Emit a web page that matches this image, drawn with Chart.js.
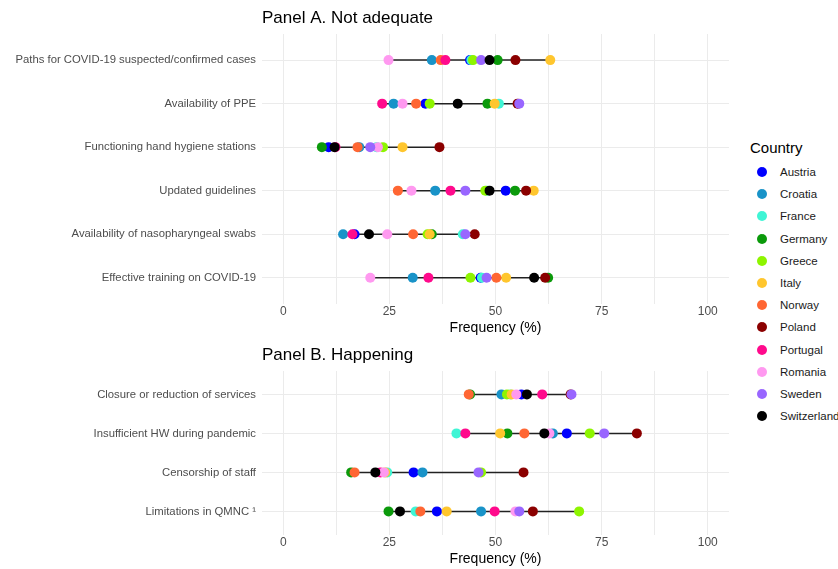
<!DOCTYPE html>
<html>
<head>
<meta charset="utf-8">
<script src="https://cdn.jsdelivr.net/npm/chart.js@4.4.1/dist/chart.umd.min.js"></script>
<style>
  body { margin: 0; background: #fff; font-family: "Liberation Sans", Arial, sans-serif; overflow: hidden; }
  #wrap { position: relative; width: 838px; height: 569px; overflow: hidden; }
  #boxA { position: absolute; left: 0; top: 0; width: 735px; height: 340px; }
  #boxB { position: absolute; left: 0; top: 337px; width: 735px; height: 232px; }
  #legend { position: absolute; left: 750px; top: 138px; }
  #legend .ttl { font-size: 15px; line-height: 20px; height: 23px; color: #000; }
  #legend .item { height: 22.2px; line-height: 22.2px; font-size: 11.5px; color: #1a1a1a; position: relative; padding-left: 30px; white-space: nowrap; }
  #legend .dot { position: absolute; left: 7px; top: 6px; width: 10px; height: 10px; border-radius: 50%; }
</style>
</head>
<body>
<div id="wrap">
  <div id="boxA"><canvas id="panelA"></canvas></div>
  <div id="boxB"><canvas id="panelB"></canvas></div>
  <div id="legend"></div>
</div>
<script>
// countries and colours (legend order)
const countries = ['Austria', 'Croatia', 'France', 'Germany', 'Greece', 'Italy',
  'Norway', 'Poland', 'Portugal', 'Romania', 'Sweden', 'Switzerland'];
const countryColors = ['#0000ff', '#1993c8', '#3ff5d5', '#0b9a0b', '#8ef500', '#ffc62e',
  '#ff6633', '#8b0000', '#ff0a8c', '#ff99f0', '#9966ff', '#000000'];

// Panel A. Not adequate - one value per country, in the order above
const categoriesA = ['Paths for COVID-19 suspected/confirmed cases', 'Availability of PPE',
  'Functioning hand hygiene stations', 'Updated guidelines',
  'Availability of nasopharyngeal swabs', 'Effective training on COVID-19'];
const pathsCases   = [44.0, 35.0, 44.3, 50.5, 44.7, 62.9, 37.1, 54.7, 38.2, 24.8, 46.6, 48.6];
const ppe          = [33.5, 26.0, 50.8, 48.1, 34.5, 49.8, 31.3, 55.2, 23.3, 28.1, 55.6, 41.1];
const handHygiene  = [10.7, 17.9, 22.0,  9.1, 23.5, 28.1, 17.5, 36.8, 12.3, 22.3, 20.5, 12.1];
const guidelines   = [52.4, 35.8, 48.0, 54.6, 47.6, 59.0, 27.0, 57.2, 39.4, 30.2, 42.9, 48.6];
const swabs        = [16.8, 14.1, 42.3, 35.0, 34.0, 34.5, 30.6, 45.1, 16.3, 24.5, 42.9, 20.2];
const training     = [46.5, 30.5, 46.8, 62.4, 44.1, 52.5, 50.2, 61.7, 34.2, 20.5, 47.9, 59.1];

// Panel B. Happening
const categoriesB = ['Closure or reduction of services', 'Insufficient HW during pandemic',
  'Censorship of staff', 'Limitations in QMNC \u00b9'];
const closure      = [56.1, 51.4, 53.5, 44.0, 52.7, 53.8, 43.7, 67.7, 61.0, 54.9, 67.9, 57.4];
const insuffHW     = [66.8, 63.5, 40.8, 52.8, 72.2, 51.1, 56.8, 83.3, 42.9, 62.7, 75.6, 61.5];
const censorship   = [30.7, 32.8, 24.5, 16.0, 46.6, 24.0, 16.8, 56.6, 22.9, 23.7, 46.0, 21.7];
const qmnc         = [36.2, 46.6, 31.2, 24.8, 69.7, 38.5, 32.3, 58.8, 49.8, 54.7, 55.6, 27.5];

const xTicks = [0, 12.5, 25, 37.5, 50, 62.5, 75, 87.5, 100];

const FONT = '"Liberation Sans", Arial, sans-serif';
const GRID = '#ebebeb';

function makePanel(canvasId, title, cats, rows, bottomPad) {
  const datasets = [];
  // black range line for every row, drawn behind the points
  rows.forEach((vals, i) => {
    datasets.push({
      data: [{ x: Math.min(...vals), y: i }, { x: Math.max(...vals), y: i }],
      showLine: true,
      borderColor: '#222',
      borderWidth: 1.5,
      pointRadius: 0,
      order: 100
    });
  });
  countries.forEach((c, ci) => {
    datasets.push({
      label: c,
      data: rows.map((vals, i) => ({ x: vals[ci], y: i })),
      backgroundColor: countryColors[ci],
      borderWidth: 0,
      pointRadius: 5,
      pointHoverRadius: 6,
      showLine: false,
      order: countries.length - ci
    });
  });

  return new Chart(document.getElementById(canvasId), {
    type: 'scatter',
    data: { datasets },
    options: {
      responsive: true,
      maintainAspectRatio: false,
      animation: false,
      layout: { padding: { left: 0, right: 5, top: 0, bottom: bottomPad } },
      plugins: {
        legend: { display: false },
        title: {
          display: true,
          text: title,
          align: 'start',
          fullSize: false,
          color: '#000',
          font: { family: FONT, size: 17, weight: 'normal' },
          padding: { top: 8, bottom: 5.6 }
        }
      },
      scales: {
        x: {
          type: 'linear',
          min: -5,
          max: 105,
          afterBuildTicks: (axis) => { axis.ticks = xTicks.map(v => ({ value: v })); },
          ticks: {
            color: '#4d4d4d',
            font: { family: FONT, size: 12 },
            padding: 1,
            maxRotation: 0,
            autoSkip: false,
            callback: (v) => (v % 25 === 0 ? v : '')
          },
          grid: { color: GRID, drawTicks: false },
          border: { display: false },
          title: {
            display: true,
            text: 'Frequency (%)',
            color: '#000',
            font: { family: FONT, size: 14 },
            padding: { top: 0, bottom: 0 }
          }
        },
        y: {
          type: 'linear',
          reverse: true,
          min: -0.6,
          max: cats.length - 1 + 0.6,
          afterBuildTicks: (axis) => { axis.ticks = cats.map((c, i) => ({ value: i })); },
          afterFit: (axis) => { axis.width = 262; },
          ticks: {
            color: '#4d4d4d',
            font: { family: FONT, size: 11.3 },
            padding: 6,
            autoSkip: false,
            callback: (v) => cats[v]
          },
          grid: { color: GRID, drawTicks: false },
          border: { display: false }
        }
      }
    }
  });
}

makePanel('panelA', 'Panel A. Not adequate', categoriesA,
  [pathsCases, ppe, handHygiene, guidelines, swabs, training], 3);
makePanel('panelB', 'Panel B. Happening', categoriesB,
  [closure, insuffHW, censorship, qmnc], 1);

// legend
const legend = document.getElementById('legend');
let html = '<div class="ttl">Country</div>';
countries.forEach((c, i) => {
  html += '<div class="item"><span class="dot" style="background:' + countryColors[i] + '"></span>' + c + '</div>';
});
legend.innerHTML = html;
</script>
</body>
</html>
